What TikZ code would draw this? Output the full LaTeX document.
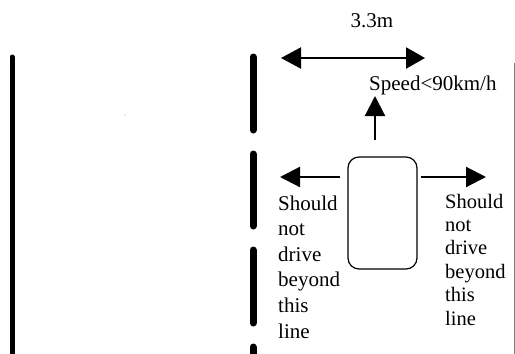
\documentclass[tikz,border=0pt]{standalone}
\usepackage{fontspec}
\setmainfont{Liberation Serif}
\usetikzlibrary{arrows.meta}
\begin{document}
\begin{tikzpicture}[x=1pt,y=-1pt,
  solidline/.style={line width=5pt,line cap=round},
  dashline/.style={line width=7pt,line cap=round},
  bigarrow/.style={line width=2.2pt,-{Triangle[length=20pt,width=20pt]}},
  dblarrow/.style={line width=2.2pt,{Triangle[length=20pt,width=21pt]}-{Triangle[length=19pt,width=21pt]}},
  lbl/.style={inner sep=0pt,font=\fontsize{21}{25.6}\selectfont},
  lblr/.style={inner sep=0pt,font=\fontsize{20.5}{23.4}\selectfont}]
\useasboundingbox[fill=white] (0,0) rectangle (515,354);
% road lines
\draw[solidline] (12,57) -- (12,356);
\draw[dashline] (253,57) -- (253,130);
\draw[dashline] (253,154) -- (253,226);
\draw[dashline] (253,250) -- (253,323);
\draw[dashline] (253,347) -- (253,360);
\draw[gray,line width=1pt] (514,63) -- (514,354);
\fill[gray!60] (125,115) circle (0.7pt);
% width arrow
\coordinate (wl) at (281,58);
\coordinate (wr) at (425,58);
\draw[dblarrow] (wl) -- (wr);
\node[lbl,anchor=base] (w) at (372,27) {3.3m};
\node[lbl,anchor=base west] (sp) at (369,90) {Speed<90km/h};
% car
\node[draw,line width=1.2pt,rounded corners=11pt,minimum width=69pt,minimum height=112pt,inner sep=0pt] (car) at (382.5,213) {};
\coordinate (upend) at (375,96);
\draw[bigarrow] (375,140) -- (upend);
\coordinate (lend) at (280,177);
\coordinate (rend) at (486,177);
\draw[bigarrow] (car.west |- lend) ++(-7,0) -- (lend);
\draw[bigarrow] (car.east |- rend) ++(3,0) -- (rend);
% texts
\node[lbl,anchor=base west,align=left] (tl) at (278,338) {Should\\not\\drive\\beyond\\this\\line};
\node[lblr,anchor=base west,align=left] (tr) at (445,325) {Should\\not\\drive\\beyond\\this\\line};
\end{tikzpicture}
\end{document}
